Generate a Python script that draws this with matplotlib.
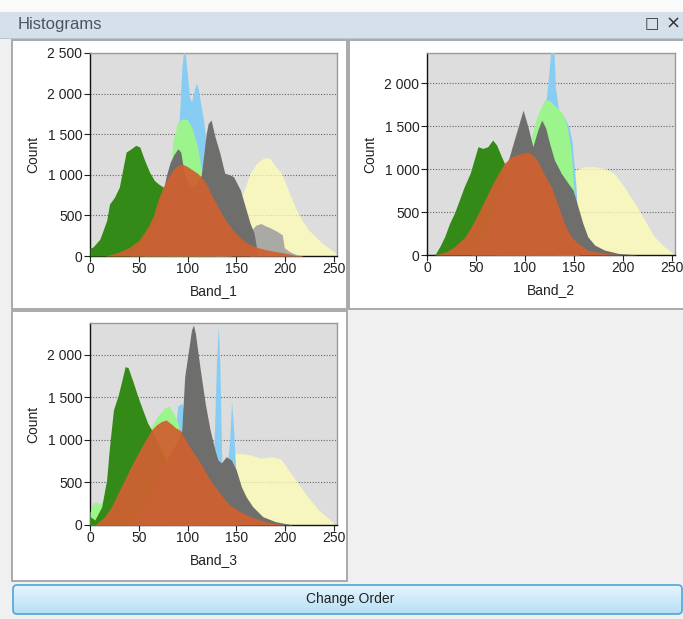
import numpy as np
import matplotlib
matplotlib.use("Agg")
import matplotlib.pyplot as plt
from matplotlib.patches import Rectangle, FancyBboxPatch
from matplotlib.ticker import FuncFormatter, MultipleLocator
from matplotlib.colors import LinearSegmentedColormap

W, H = 683, 619
plt.rcParams["font.family"] = ["Liberation Sans", "DejaVu Sans"]

# histogram outlines: (pixel value, count)
# --- Band_1
b1_green = [(0, 100), (3, 110), (10, 206), (17, 434), (20, 640), (25, 723), (30, 847), (34, 1094),
            (37, 1280), (42, 1320), (47, 1363), (51, 1342), (56, 1177), (61, 1032), (66, 930),
            (70, 888), (75, 850), (80, 750), (90, 550), (100, 350), (110, 180), (120, 60), (130, 0)]
b1_lgreen = [(55, 0), (65, 350), (75, 700), (82, 980), (85, 1425), (90, 1650), (95, 1690), (100, 1680),
             (105, 1560), (110, 1350), (113, 1136), (120, 800), (130, 300), (140, 0)]
b1_cyan = [(80, 600), (88, 1100), (92, 1800), (94, 2300), (96, 2560), (98, 2450), (100, 2200),
           (102, 1950), (104, 1900), (107, 2050), (109, 2130), (111, 2050), (113, 1900), (116, 1700),
           (120, 1300), (125, 900), (135, 300), (145, 0)]
b1_gray = [(40, 0), (60, 200), (70, 500), (78, 980), (82, 1150), (86, 1250), (90, 1320), (93, 1280),
           (96, 1050), (100, 900), (105, 850), (110, 900), (114, 1000), (117, 1300), (119, 1500),
           (121, 1630), (124, 1675), (128, 1470), (133, 1268), (138, 1020), (143, 1000), (147, 977),
           (154, 813), (159, 607), (164, 402), (168, 283), (172, 0)]
b1_silver = [(163, 0), (166, 330), (170, 380), (175, 400), (180, 370), (186, 340), (192, 300),
             (197, 260), (199, 100), (205, 50), (212, 15), (218, 0)]
b1_yellow = [(120, 0), (130, 200), (140, 400), (150, 600), (157, 780), (164, 1020), (171, 1145),
             (178, 1207), (184, 1207), (189, 1120), (196, 1020), (203, 813), (210, 607), (217, 443),
             (224, 320), (231, 238), (238, 156), (245, 94), (252, 33), (255, 0)]
b1_orange = [(15, 0), (20, 15), (30, 50), (40, 105), (50, 190), (60, 370), (65, 500), (70, 700),
             (75, 850), (80, 970), (85, 1060), (90, 1120), (95, 1130), (100, 1100), (105, 1060),
             (110, 1020), (115, 960), (120, 870), (125, 740), (130, 630), (135, 520), (140, 420),
             (145, 340), (150, 270), (155, 215), (160, 170), (165, 135), (170, 110), (180, 78),
             (190, 55), (200, 35), (210, 10), (220, 0)]

# --- Band_2
b2_green = [(8, 0), (13, 97), (18, 213), (23, 368), (28, 488), (33, 640), (38, 795), (44, 950),
            (49, 1143), (52, 1260), (57, 1240), (62, 1260), (67, 1337), (71, 1280), (76, 1143),
            (79, 1066), (85, 950), (90, 800), (100, 500), (110, 250), (120, 80), (130, 0)]
b2_lgreen = [(70, 0), (80, 500), (95, 1000), (105, 1300), (110, 1530), (115, 1686), (120, 1800),
             (125, 1800), (130, 1740), (138, 1650), (143, 1492), (147, 1220), (149, 911), (151, 600),
             (155, 0)]
b2_cyan = [(105, 0), (112, 1200), (118, 1550), (122, 1850), (125, 2200), (126.5, 2400), (129.5, 2400),
           (131, 1950), (134, 1700), (140, 1600), (145, 1480), (148, 1320), (150, 1050), (152, 800),
           (155, 0)]
b2_gray = [(45, 0), (55, 150), (65, 450), (75, 800), (80, 1000), (84, 1143), (88, 1300), (93, 1492),
           (98, 1686), (103, 1492), (108, 1260), (113, 1453), (117, 1570), (121, 1480), (125, 1300),
           (130, 1105), (137, 950), (144, 833), (149, 756), (154, 562), (159, 368), (164, 213),
           (171, 116), (181, 58), (195, 19), (215, 0)]
b2_yellow = [(125, 0), (135, 400), (145, 800), (152, 988), (160, 1027), (171, 1027), (181, 1008),
             (191, 950), (201, 795), (212, 600), (222, 407), (232, 213), (242, 97), (249, 39), (253, 0)]
b2_orange = [(8, 0), (20, 40), (28, 97), (39, 213), (49, 407), (59, 640), (69, 872), (79, 1066),
             (86, 1143), (96, 1182), (103, 1200), (110, 1143), (115, 1050), (120, 930), (127, 790),
             (133, 600), (140, 370), (147, 213), (154, 136), (164, 58), (180, 19), (200, 0)]

# --- Band_3
b3_green = [(0, 100), (5, 60), (12, 215), (17, 530), (20, 921), (24, 1353), (29, 1530), (32, 1670),
            (36, 1862), (39, 1850), (44, 1686), (49, 1510), (54, 1353), (59, 1200), (63, 1118),
            (70, 950), (80, 700), (90, 450), (100, 250), (110, 100), (120, 0)]
b3_lgreen = [(0, 150), (3, 260), (6, 270), (10, 240), (20, 400), (40, 700), (60, 1100), (69, 1275),
             (76, 1373), (81, 1400), (86, 1300), (90, 1200), (95, 900), (100, 600), (110, 200), (120, 0)]
b3_cyan = [(80, 0), (86, 1000), (90, 1400), (94, 1430), (98, 1300), (105, 1000), (120, 800), (127, 900),
           (129.5, 1900), (131.5, 2340), (133, 1900), (135, 700), (140, 600), (143, 1000), (145, 1450),
           (147, 1150), (149, 700), (152, 0)]
b3_gray = [(40, 0), (60, 300), (80, 800), (90, 1000), (94, 1118), (97, 1745), (101, 2059), (104, 2294),
           (106, 2353), (108, 2250), (113, 1823), (118, 1431), (123, 1118), (128, 882), (131, 765),
           (134.5, 730), (139.6, 803), (144.7, 765), (149.8, 647), (155, 451), (160, 330), (166.7, 215),
           (177, 98), (190, 39), (208, 0)]
b3_yellow = [(120, 0), (130, 400), (140, 700), (148, 840), (155, 840), (165, 823), (175, 785),
             (186, 803), (196, 770), (203, 650), (213, 490), (223, 333), (234, 176), (244, 80), (251, 0)]
b3_orange = [(5, 0), (15, 98), (22, 215), (32, 451), (42, 686), (53, 921), (63, 1118), (68, 1176),
             (73, 1216), (78, 1235), (83, 1190), (88, 1140), (92, 1118), (102, 921), (113, 730),
             (123, 530), (133, 373), (143, 235), (154, 157), (164, 98), (180, 40), (200, 0)]

band_labels = ["Band_1", "Band_2", "Band_3"]
y_tops = [2500, 2350, 2375]

styles = {
    "yellow": dict(color="#ffffb4", alpha=0.75),
    "cyan": dict(color="#87cdf3", alpha=1.0),
    "lgreen": dict(color="#9cf48c", alpha=1.0),
    "green": dict(color="#338a17", alpha=1.0),
    "silver": dict(color="#aaaaa4", alpha=1.0),
    "gray": dict(color="#6e6e6c", alpha=1.0),
    "orange": dict(color="#d0602f", alpha=0.93),
}

panels = [
    [("yellow", b1_yellow), ("cyan", b1_cyan), ("lgreen", b1_lgreen), ("green", b1_green),
     ("silver", b1_silver), ("gray", b1_gray), ("orange", b1_orange)],
    [("yellow", b2_yellow), ("cyan", b2_cyan), ("lgreen", b2_lgreen), ("green", b2_green),
     ("gray", b2_gray), ("orange", b2_orange)],
    [("yellow", b3_yellow), ("cyan", b3_cyan), ("lgreen", b3_lgreen), ("green", b3_green),
     ("gray", b3_gray), ("orange", b3_orange)],
]

fig = plt.figure(figsize=(W / 100, H / 100), dpi=100)
fig.patch.set_facecolor("#f0f0f0")


def box(x0, y0, x1, y1, **kw):
    # pixel box, origin top-left; kept under the axes
    fig.patches.append(Rectangle((x0 / W, 1 - y1 / H), (x1 - x0) / W, (y1 - y0) / H,
                                 transform=fig.transFigure, zorder=-5, **kw))


# window chrome
box(0, 0, W, 12, fc="#fafafa", ec="none")
box(0, 12, W, 38, fc="#d5e0eb", ec="none")
box(0, 37.5, W, 38.5, fc="#b9c5d2", ec="none")
fig.text(18 / W, 1 - 25 / H, "Histograms", fontsize=12, color="#4a5563", va="center")
fig.text(652 / W, 1 - 24 / H, "\u25a1", fontsize=11, color="#333333", va="center", ha="center",
         family="DejaVu Sans")
fig.text(673 / W, 1 - 24 / H, "\u00d7", fontsize=13, color="#333333", va="center", ha="center",
         family="DejaVu Sans")

box(12, 40, 347, 309, fc="white", ec="#a4a4a4", lw=1.3)
box(349, 40, 684, 309, fc="white", ec="#a4a4a4", lw=1.3)
box(12, 311, 347, 581, fc="white", ec="#a4a4a4", lw=1.3)

# axes rectangles in pixels: left, top, right, bottom
ax_px = [(90, 53, 337, 256), (427, 53, 675, 255), (90, 323, 337, 525)]

fmt = FuncFormatter(lambda v, p: f"{int(v):,}".replace(",", " "))

for (l, t, r, b), series, label, ytop in zip(ax_px, panels, band_labels, y_tops):
    ax = fig.add_axes([l / W, 1 - b / H, (r - l) / W, (b - t) / H])
    ax.set_facecolor("#dddddd")
    for z, (key, pts) in enumerate(series):
        x, y = zip(*pts)
        ax.fill_between(x, y, lw=0, zorder=2 + z, **styles[key])
    ax.set_xlim(0, 253)
    ax.set_ylim(0, ytop)
    ax.xaxis.set_major_locator(MultipleLocator(50))
    ax.yaxis.set_major_locator(MultipleLocator(500))
    ax.yaxis.set_major_formatter(fmt)
    ax.yaxis.grid(True, ls=(0, (1, 1.5)), color="#666666", lw=0.8, zorder=1)
    ax.set_axisbelow(True)
    ax.tick_params(direction="out", length=4, width=0.8, pad=1.5, labelsize=10, colors="#222222")
    ax.tick_params(axis="x", pad=0.5)
    for s in ["left", "bottom"]:
        ax.spines[s].set_color("#111111")
        ax.spines[s].set_linewidth(1.0)
    for s in ["top", "right"]:
        ax.spines[s].set_color("#9a9a9a")
        ax.spines[s].set_linewidth(1.0)
    ax.set_xlabel(label, fontsize=10, color="#222222", va="center")
    ax.set_ylabel("Count", fontsize=10, color="#222222", va="center")
    ax.xaxis.set_label_coords(0.5, -35 / (b - t))
    ax.yaxis.set_label_coords(-57 / (r - l), 0.5)

# "Change Order" button
bax = fig.add_axes([12 / W, 1 - 615 / H, 671 / W, 31 / H])
bax.set_xlim(0, 671)
bax.set_ylim(0, 31)
bax.set_axis_off()
btn_cmap = LinearSegmentedColormap.from_list("btn", ["#b7ddf4", "#cdeafa", "#e9f6fe"])
grad = np.linspace(0, 1, 60).reshape(-1, 1)
im = bax.imshow(grad, aspect="auto", cmap=btn_cmap, origin="lower", extent=[0, 671, 0, 31])
outline = FancyBboxPatch((1, 1), 669, 29, boxstyle="round,pad=0,rounding_size=4",
                         fc="none", ec="#4aa6dc", lw=1.2)
bax.add_patch(outline)
im.set_clip_path(outline)
bax.text(338, 15.5, "Change Order", fontsize=10, color="#222222", ha="center", va="center")

fig.savefig("out.png", dpi=100, facecolor=fig.get_facecolor())
